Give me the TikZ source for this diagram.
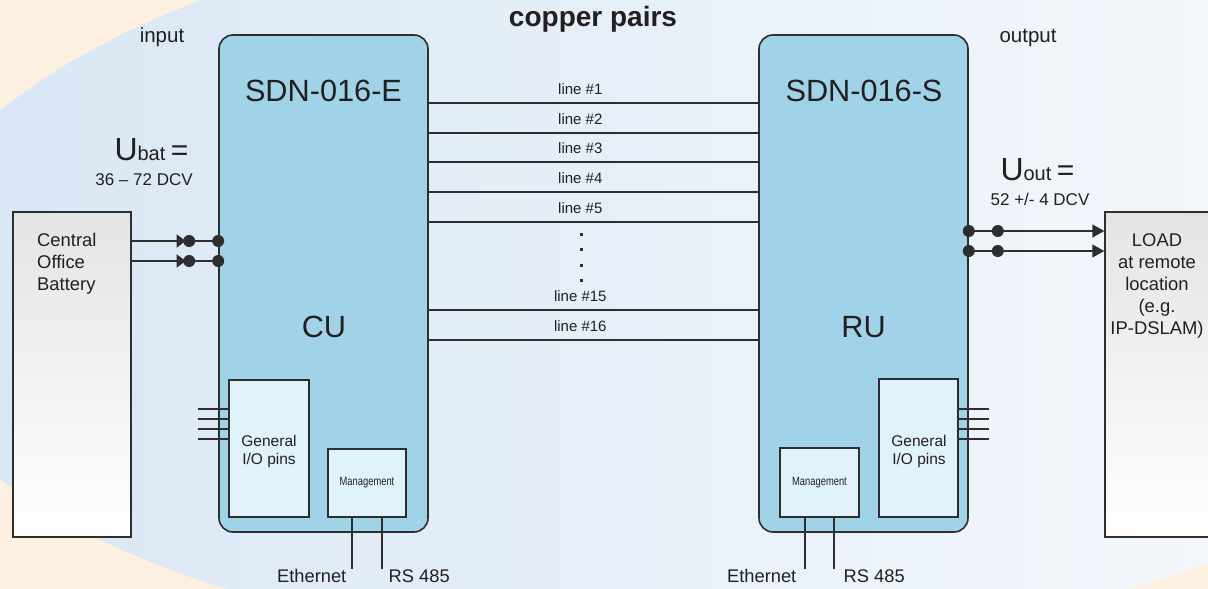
\documentclass[tikz,border=0pt]{standalone}
\usepackage{fontspec}
\setmainfont{Liberation Sans}
\usetikzlibrary{positioning,arrows.meta,calc}
\definecolor{cream}{HTML}{FDF0E1}
\definecolor{bgleft}{HTML}{D7E6F4}
\definecolor{bgright}{HTML}{FAFBFD}
\definecolor{unitcol}{HTML}{A0D3E8}
\definecolor{incol}{HTML}{E0F2FA}
\definecolor{wirecol}{HTML}{2E2E2E}
\definecolor{extop}{HTML}{E4E4E4}
\definecolor{inkcol}{HTML}{231F20}
\newcommand{\fsz}[2]{\fontsize{#1}{#2}\selectfont}

\begin{document}
\begin{tikzpicture}[x=1pt,y=-1pt,
wire/.style={draw=wirecol,line width=1.4pt},
unit/.style={draw=wirecol,line width=1.6pt,fill=unitcol,rounded corners=14pt,
    minimum width=209pt,minimum height=497pt,inner sep=0pt},
inbox/.style={draw=wirecol,line width=1.4pt,fill=incol,inner sep=0pt,text=inkcol},
ext/.style={draw=wirecol,line width=1.4pt,top color=extop,bottom color=white,
    inner sep=0pt,minimum width=#1,minimum height=325pt},
txt/.style={inner sep=0pt,anchor=base,text=inkcol},
tip/.style={-{Triangle[length=#1,width=13pt]}}]
\useasboundingbox (0,0) rectangle (1208,589);

% background
\begin{scope}
\clip (0,0) rectangle (1208,589);
\fill[cream] (0,0) rectangle (1208,589);
\shade[left color=bgleft,right color=bgright,rotate around={1.6:(711,279)}]
  (711,279) ellipse [x radius=819,y radius=371];
\end{scope}

% units and outside boxes
\node (cu) [unit] at (323.5,283.5) {};
\node (ru) [unit] at (863.5,283.5) {};
\node (bat) [ext=118pt] at (72,374.5) {};
\node (load) [ext=110pt] at (1160,374.5) {};

\node (cugio) [inbox,minimum width=80pt,minimum height=137pt] at (269,448.5) {};
\node (cumg) [inbox,minimum width=78pt,minimum height=68pt,font=\fsz{12}{14}]
    at (367,483) {\scalebox{.78}[1]{Management}};
\node (rugio) [inbox,minimum width=79pt,minimum height=138pt] at (918.5,448) {};
\node (rumg) [inbox,minimum width=79pt,minimum height=69pt,font=\fsz{12}{14}]
    at (819.5,482.5) {\scalebox{.78}[1]{Management}};

% titles
\node (cophead) [txt,font=\bfseries\fsz{28}{32}] at (593,27) {copper pairs};
\node (intxt) [txt,font=\fsz{20.5}{24}] at (162,42) {input};
\node (outtxt) [txt,font=\fsz{20.5}{24}] at (1028,42) {output};
\node (cuname) [txt,font=\fsz{30.7}{36}] at (323.5,101) {SDN-016-E};
\node (runame) [txt,font=\fsz{30.7}{36}] at (864,101) {SDN-016-S};
\node (cuabbr) [txt,font=\fsz{30.7}{36}] at (324,337) {CU};
\node (ruabbr) [txt,font=\fsz{30.7}{36}] at (863.5,337) {RU};

\node (ubat) [txt] at (151.5,160) {{\fsz{32}{36}U}{\fsz{20}{24}bat }{\fsz{30}{36}=}};
\node (ubatv) [txt,font=\fsz{17}{20}] at (144,185) {36 – 72 DCV};
\node (uout) [txt] at (1037.5,180) {{\fsz{32}{36}U}{\fsz{20}{24}out }{\fsz{30}{36}=}};
\node (uoutv) [txt,font=\fsz{17}{20}] at (1040,205) {52 +/- 4 DCV};

\node (battxt) [txt,anchor=base west,align=left,font=\fsz{18.4}{22}]
    at (37,290) {Central\\Office\\Battery};
\node (loadtxt) [txt,align=center,font=\fsz{18.4}{22}]
    at (1157,334) {LOAD\\at remote\\location\\(e.g.\\IP-DSLAM)};
\node (cugiotxt) [txt,align=center,font=\fsz{15.5}{18}] at (269,464) {General\\I/O pins};
\node (rugiotxt) [txt,align=center,font=\fsz{15.5}{18}] at (919,464) {General\\I/O pins};

% copper pairs
\foreach \y/\n in {103/1,133/2,162/3,192/4,222/5,310/15,340/16}
  \draw[wire] (cu.east |- 0,\y) -- (ru.west |- 0,\y)
    node[txt,pos=.46,yshift=9pt,font=\fsz{15}{18}] {line \#\n};
\foreach \y in {234,249,265,280}
  \fill[wirecol] (579.5,\y-1.5) rectangle ++(3,3);

% battery input
\foreach \y [count=\i] in {241,261} {
  \coordinate (cuin\i) at (cu.west |- 0,\y);
  \draw[wire] (bat.east |- cuin\i) -- (cuin\i);
  \draw[wire,tip=9pt] (bat.east |- cuin\i) -- ++(54,0);
  \fill[wirecol] (cuin\i) circle (6pt) ($(cuin\i)+(-29,0)$) circle (6pt);
}

% load output
\foreach \y [count=\i] in {231,251} {
  \coordinate (ruout\i) at (ru.east |- 0,\y);
  \draw[wire,tip=12pt] (ruout\i) -- (load.west |- ruout\i);
  \fill[wirecol] (ruout\i) circle (6pt) ($(ruout\i)+(29,0)$) circle (6pt);
}

% I/O pins
\foreach \y in {409,419,429,439} {
  \draw[wire] (cugio.west |- 0,\y) -- ++(-30,0);
  \draw[wire] (rugio.east |- 0,\y) -- ++(30,0);
}

% management ports
\draw[wire] ($(cumg.south)+(-15,0)$) -- ++(0,51)
  node[txt,anchor=base east,xshift=-5pt,yshift=-14pt,font=\fsz{18.3}{22}] {Ethernet};
\draw[wire] ($(cumg.south)+(15,0)$) -- ++(0,51)
  node[txt,anchor=base west,xshift=6pt,yshift=-14pt,font=\fsz{18.3}{22}] {RS 485};
\draw[wire] ($(rumg.south)+(-14.5,0)$) -- ++(0,51)
  node[txt,anchor=base east,xshift=-8pt,yshift=-14pt,font=\fsz{18.3}{22}] {Ethernet};
\draw[wire] ($(rumg.south)+(14.5,0)$) -- ++(0,51)
  node[txt,anchor=base west,xshift=9pt,yshift=-14pt,font=\fsz{18.3}{22}] {RS 485};
\end{tikzpicture}
\end{document}
